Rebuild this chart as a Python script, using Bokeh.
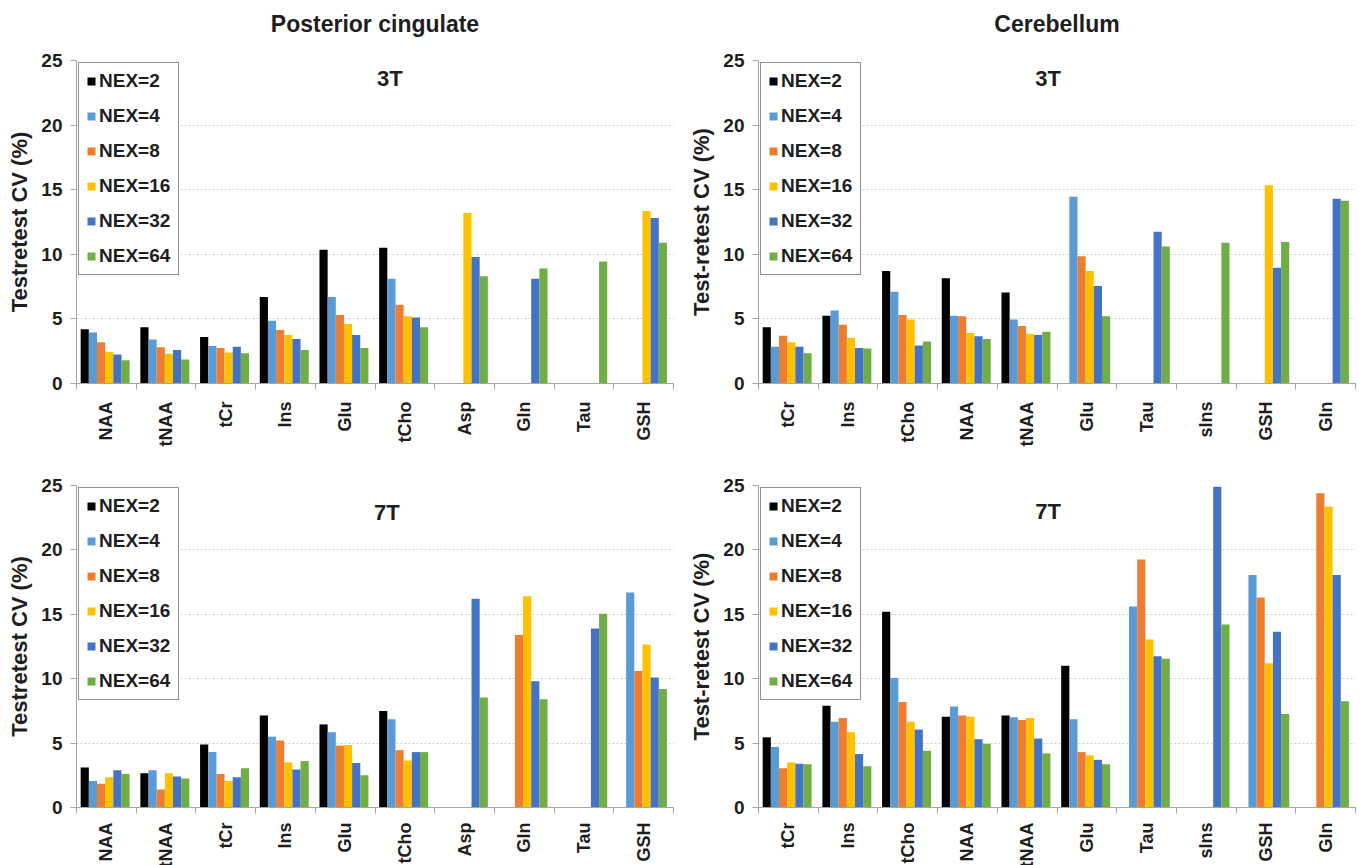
import numpy as np
from bokeh.plotting import figure
from bokeh.models import Range1d, FixedTicker, Label, Title
from bokeh.layouts import column, row
from bokeh.embed import file_html
from bokeh.resources import INLINE

NAN = float("nan")

series_labels = ["NEX=2", "NEX=4", "NEX=8", "NEX=16", "NEX=32", "NEX=64"]
series_colors = ["#000000", "#5B9BD5", "#ED7D31", "#FFC000", "#4472C4", "#70AD47"]

pc_categories = ["NAA", "tNAA", "tCr", "Ins", "Glu", "tCho", "Asp", "Gln", "Tau", "GSH"]
cb_categories = ["tCr", "Ins", "tCho", "NAA", "tNAA", "Glu", "Tau", "sIns", "GSH", "Gln"]

# Posterior cingulate, 3T (one list per NEX, values per category)
pc3_nex2 = [4.2, 4.35, 3.6, 6.7, 10.35, 10.5, NAN, NAN, NAN, NAN]
pc3_nex4 = [3.95, 3.4, 2.9, 4.85, 6.7, 8.1, NAN, NAN, NAN, NAN]
pc3_nex8 = [3.2, 2.8, 2.75, 4.15, 5.3, 6.1, NAN, NAN, NAN, NAN]
pc3_nex16 = [2.45, 2.3, 2.4, 3.75, 4.6, 5.2, 13.2, NAN, NAN, 13.35]
pc3_nex32 = [2.25, 2.6, 2.85, 3.45, 3.75, 5.1, 9.8, 8.1, NAN, 12.8]
pc3_nex64 = [1.8, 1.85, 2.35, 2.6, 2.75, 4.35, 8.3, 8.9, 9.45, 10.9]

# Cerebellum, 3T
cb3_nex2 = [4.35, 5.25, 8.7, 8.15, 7.05, NAN, NAN, NAN, NAN, NAN]
cb3_nex4 = [2.85, 5.65, 7.1, 5.25, 4.95, 14.45, NAN, NAN, NAN, NAN]
cb3_nex8 = [3.7, 4.55, 5.3, 5.2, 4.45, 9.85, NAN, NAN, NAN, NAN]
cb3_nex16 = [3.2, 3.55, 4.95, 3.9, 3.85, 8.7, NAN, NAN, 15.35, NAN]
cb3_nex32 = [2.85, 2.75, 2.95, 3.65, 3.75, 7.55, 11.75, NAN, 8.95, 14.3]
cb3_nex64 = [2.35, 2.7, 3.25, 3.45, 4.0, 5.2, 10.6, 10.9, 10.95, 14.15]

# Posterior cingulate, 7T
pc7_nex2 = [3.1, 2.65, 4.9, 7.15, 6.45, 7.5, NAN, NAN, NAN, NAN]
pc7_nex4 = [2.05, 2.9, 4.3, 5.5, 5.85, 6.85, NAN, NAN, NAN, 16.7]
pc7_nex8 = [1.85, 1.4, 2.6, 5.2, 4.8, 4.45, NAN, 13.4, NAN, 10.6]
pc7_nex16 = [2.35, 2.65, 2.05, 3.5, 4.85, 3.65, NAN, 16.4, NAN, 12.65]
pc7_nex32 = [2.9, 2.4, 2.35, 2.95, 3.45, 4.3, 16.2, 9.8, 13.9, 10.1]
pc7_nex64 = [2.6, 2.25, 3.05, 3.6, 2.5, 4.3, 8.55, 8.4, 15.05, 9.2]

# Cerebellum, 7T
cb7_nex2 = [5.45, 7.9, 15.2, 7.05, 7.15, 11.0, NAN, NAN, NAN, NAN]
cb7_nex4 = [4.7, 6.65, 10.05, 7.85, 7.0, 6.85, 15.6, NAN, 18.05, NAN]
cb7_nex8 = [3.05, 6.95, 8.2, 7.15, 6.8, 4.3, 19.25, NAN, 16.3, 24.4]
cb7_nex16 = [3.5, 5.85, 6.65, 7.05, 6.95, 4.05, 13.05, NAN, 11.2, 23.35]
cb7_nex32 = [3.4, 4.15, 6.05, 5.3, 5.35, 3.7, 11.75, 24.9, 13.65, 18.05]
cb7_nex64 = [3.35, 3.2, 4.4, 4.95, 4.2, 3.35, 11.55, 14.2, 7.25, 8.25]

y_ticks = [0, 5, 10, 15, 20, 25]

FONT = "Liberation Sans"
TEXT = "#1e1e1e"
AXIS = "#a6a6a6"


def make_panel(categories, series, ylabel, field_label, field_x, field_y,
               left, top, title=None):
    n = len(categories)
    p = figure(
        x_range=Range1d(0, n), y_range=Range1d(0, 25),
        frame_width=597,
        frame_height=323 if top else 322,
        min_border_left=76 if left else 78,
        min_border_right=7 if left else 2,
        min_border_top=60 if top else 25,
        min_border_bottom=77 if top else 56,
        output_backend="svg", toolbar_location=None,
    )
    p.outline_line_color = None
    p.background_fill_color = "white"

    group = 0.82
    bw = group / len(series)
    centers = np.arange(n) + 0.5
    for k, (lab, col, vals) in enumerate(zip(series_labels, series_colors, series)):
        off = -group / 2 + bw * (k + 0.5) - 0.02
        p.vbar(x=centers + off, top=vals, bottom=0, width=bw,
               fill_color=col, line_color=None, legend_label=lab)

    # axes
    p.xaxis.ticker = FixedTicker(ticks=list(centers), minor_ticks=list(range(n + 1)))
    p.xaxis.major_label_overrides = {float(c): name for c, name in zip(centers, categories)}
    p.xaxis.major_label_orientation = np.pi / 2
    p.xaxis.major_tick_line_color = None
    p.xaxis.major_tick_out = 0
    p.xaxis.major_tick_in = 0
    p.xaxis.minor_tick_line_color = AXIS
    p.xaxis.minor_tick_out = 6
    p.xaxis.minor_tick_in = 0
    p.xaxis.axis_line_color = AXIS
    p.xaxis.major_label_standoff = 12 if top else 9
    p.xaxis.major_label_text_font = FONT
    p.xaxis.major_label_text_font_size = "18px"
    p.xaxis.major_label_text_font_style = "bold"
    p.xaxis.major_label_text_color = TEXT

    p.yaxis.ticker = FixedTicker(ticks=y_ticks)
    p.yaxis.axis_line_color = AXIS
    p.yaxis.major_tick_line_color = AXIS
    p.yaxis.major_tick_out = 6
    p.yaxis.major_tick_in = 0
    p.yaxis.minor_tick_line_color = None
    p.yaxis.major_label_text_font = FONT
    p.yaxis.major_label_text_font_size = "19px"
    p.yaxis.major_label_text_font_style = "bold"
    p.yaxis.major_label_text_color = TEXT
    p.yaxis.major_label_standoff = 8
    p.yaxis.axis_label = ylabel
    p.yaxis.axis_label_text_font = FONT
    p.yaxis.axis_label_text_font_size = "22px"
    p.yaxis.axis_label_text_font_style = "bold"
    p.yaxis.axis_label_text_color = TEXT
    p.yaxis.axis_label_standoff = 6

    p.xgrid.visible = False
    p.ygrid.ticker = FixedTicker(ticks=y_ticks)
    p.ygrid.grid_line_color = "#cfcfcf"
    p.ygrid.grid_line_dash = "2 2"
    p.ygrid.grid_line_width = 1

    # legend
    lg = p.legend[0]
    lg.location = "top_left"
    lg.margin = 2
    lg.padding = 7
    lg.spacing = 13
    lg.label_height = 20
    lg.label_width = 72
    lg.glyph_height = 10
    lg.glyph_width = 10
    lg.label_standoff = 3
    lg.label_text_font = FONT
    lg.label_text_font_size = "19px"
    lg.label_text_font_style = "bold"
    lg.label_text_color = TEXT
    lg.border_line_color = "#222222"
    lg.border_line_width = 1.5
    lg.background_fill_alpha = 1.0

    p.add_layout(Label(x=field_x, y=field_y, text=field_label,
                       text_font=FONT, text_font_size="22px",
                       text_font_style="bold", text_color=TEXT,
                       text_align="center", text_baseline="middle"))
    if title:
        # empty spacer title next to the frame, then the column heading above it
        p.add_layout(Title(text=" ", text_font_size="20px", standoff=0), "above")
        p.add_layout(Title(text=title, text_font=FONT, text_font_size="23px",
                           text_font_style="bold", text_color=TEXT,
                           align="center", standoff=0, offset=6), "above")
    return p


p1 = make_panel(pc_categories,
                [pc3_nex2, pc3_nex4, pc3_nex8, pc3_nex16, pc3_nex32, pc3_nex64],
                "Testretest CV (%)", "3T", 5.25, 23.6, left=True, top=True,
                title="Posterior cingulate")
p2 = make_panel(cb_categories,
                [cb3_nex2, cb3_nex4, cb3_nex8, cb3_nex16, cb3_nex32, cb3_nex64],
                "Test-retest CV (%)", "3T", 4.85, 23.6, left=False, top=True,
                title="Cerebellum")
p3 = make_panel(pc_categories,
                [pc7_nex2, pc7_nex4, pc7_nex8, pc7_nex16, pc7_nex32, pc7_nex64],
                "Testretest CV (%)", "7T", 5.2, 22.9, left=True, top=False)
p4 = make_panel(cb_categories,
                [cb7_nex2, cb7_nex4, cb7_nex8, cb7_nex16, cb7_nex32, cb7_nex64],
                "Test-retest CV (%)", "7T", 4.85, 23.0, left=False, top=False)

layout = column(row(p1, p2), row(p3, p4))
open("out.html", "w").write(file_html(layout, INLINE))
